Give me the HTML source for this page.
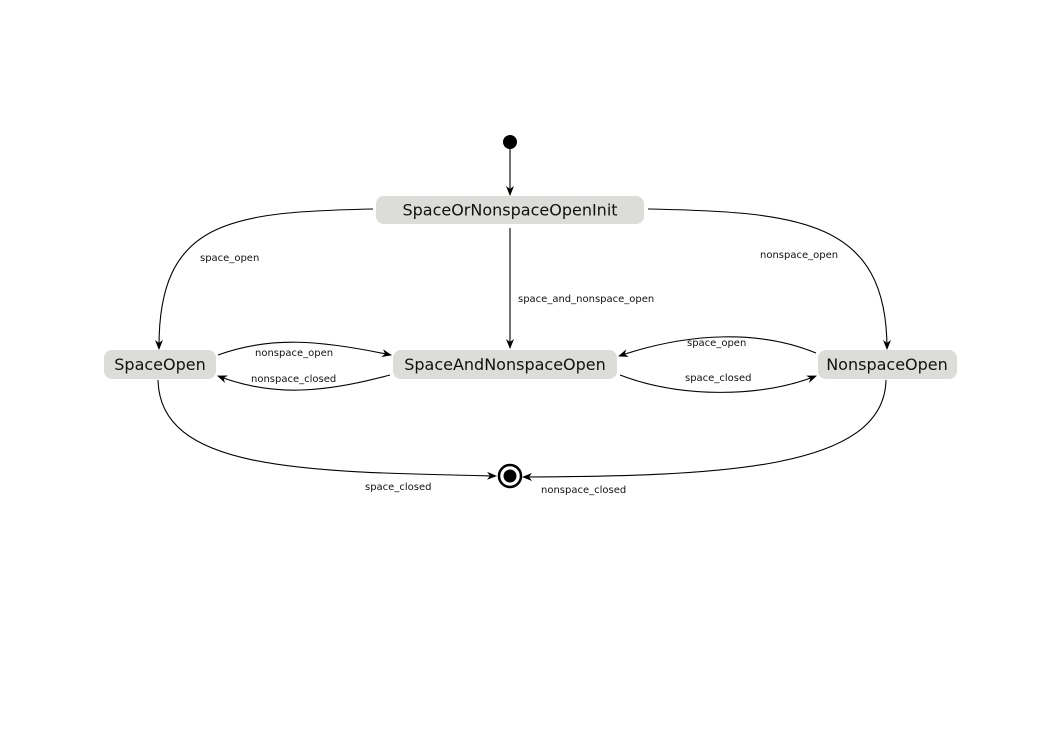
<!DOCTYPE html>
<html><head><meta charset="utf-8"><style>
html,body{margin:0;padding:0;background:#fff;width:1052px;height:744px;overflow:hidden}
text{font-family:"DejaVu Sans","Liberation Sans",sans-serif}
.st{font-size:16px;fill:#111;text-anchor:middle}
.lb{font-size:10px;fill:#111}
.e{fill:none;stroke:#000;stroke-width:1.1}
</style></head><body>
<svg width="1052" height="744" viewBox="0 0 1052 744">
<defs><marker id="a" markerWidth="10" markerHeight="8" refX="9" refY="4" orient="auto" markerUnits="userSpaceOnUse"><path d="M0,0 L10,4 L0,8 L3,4 Z" fill="#000"/></marker></defs>
<circle cx="510" cy="142" r="7" fill="#000"/>
<path class="e" d="M510,149 L510,195" marker-end="url(#a)"/>
<g><rect x="376" y="196" width="268" height="28" rx="8" fill="#dcdcd8"/><text class="st" x="510" y="215.5">SpaceOrNonspaceOpenInit</text></g>
<g><rect x="104" y="350" width="112" height="29" rx="8" fill="#dcdcd8"/><text class="st" x="160" y="370">SpaceOpen</text></g>
<g><rect x="393" y="350" width="224" height="29" rx="8" fill="#dcdcd8"/><text class="st" x="505" y="370">SpaceAndNonspaceOpen</text></g>
<g><rect x="818" y="350" width="139" height="29" rx="8" fill="#dcdcd8"/><text class="st" x="887" y="370">NonspaceOpen</text></g>
<g><circle cx="510" cy="476" r="11" fill="none" stroke="#000" stroke-width="2.5"/><circle cx="510" cy="476" r="6.5" fill="#000"/></g>
<path class="e" d="M373,209 C230,212 158,220 159,349" marker-end="url(#a)"/>
<text class="lb" x="200" y="261">space_open</text>
<path class="e" d="M510,228 L510,348" marker-end="url(#a)"/>
<text class="lb" x="518" y="302">space_and_nonspace_open</text>
<path class="e" d="M648,209 C800,212 887,220 887,349" marker-end="url(#a)"/>
<text class="lb" x="760" y="258">nonspace_open</text>
<path class="e" d="M218,355 C270,336 320,340 391,355" marker-end="url(#a)"/>
<text class="lb" x="255" y="356">nonspace_open</text>
<path class="e" d="M390,375 C320,394 270,396 218,376" marker-end="url(#a)"/>
<text class="lb" x="251" y="382">nonspace_closed</text>
<path class="e" d="M816,353 C760,330 690,332 619,356" marker-end="url(#a)"/>
<text class="lb" x="687" y="346">space_open</text>
<path class="e" d="M620,375 C680,398 760,398 816,376" marker-end="url(#a)"/>
<text class="lb" x="685" y="381">space_closed</text>
<path class="e" d="M158,380 C160,470 300,472 496,476" marker-end="url(#a)"/>
<text class="lb" x="365" y="490">space_closed</text>
<path class="e" d="M886,380 C884,470 720,476 523,477" marker-end="url(#a)"/>
<text class="lb" x="541" y="493">nonspace_closed</text>
</svg>
</body></html>
